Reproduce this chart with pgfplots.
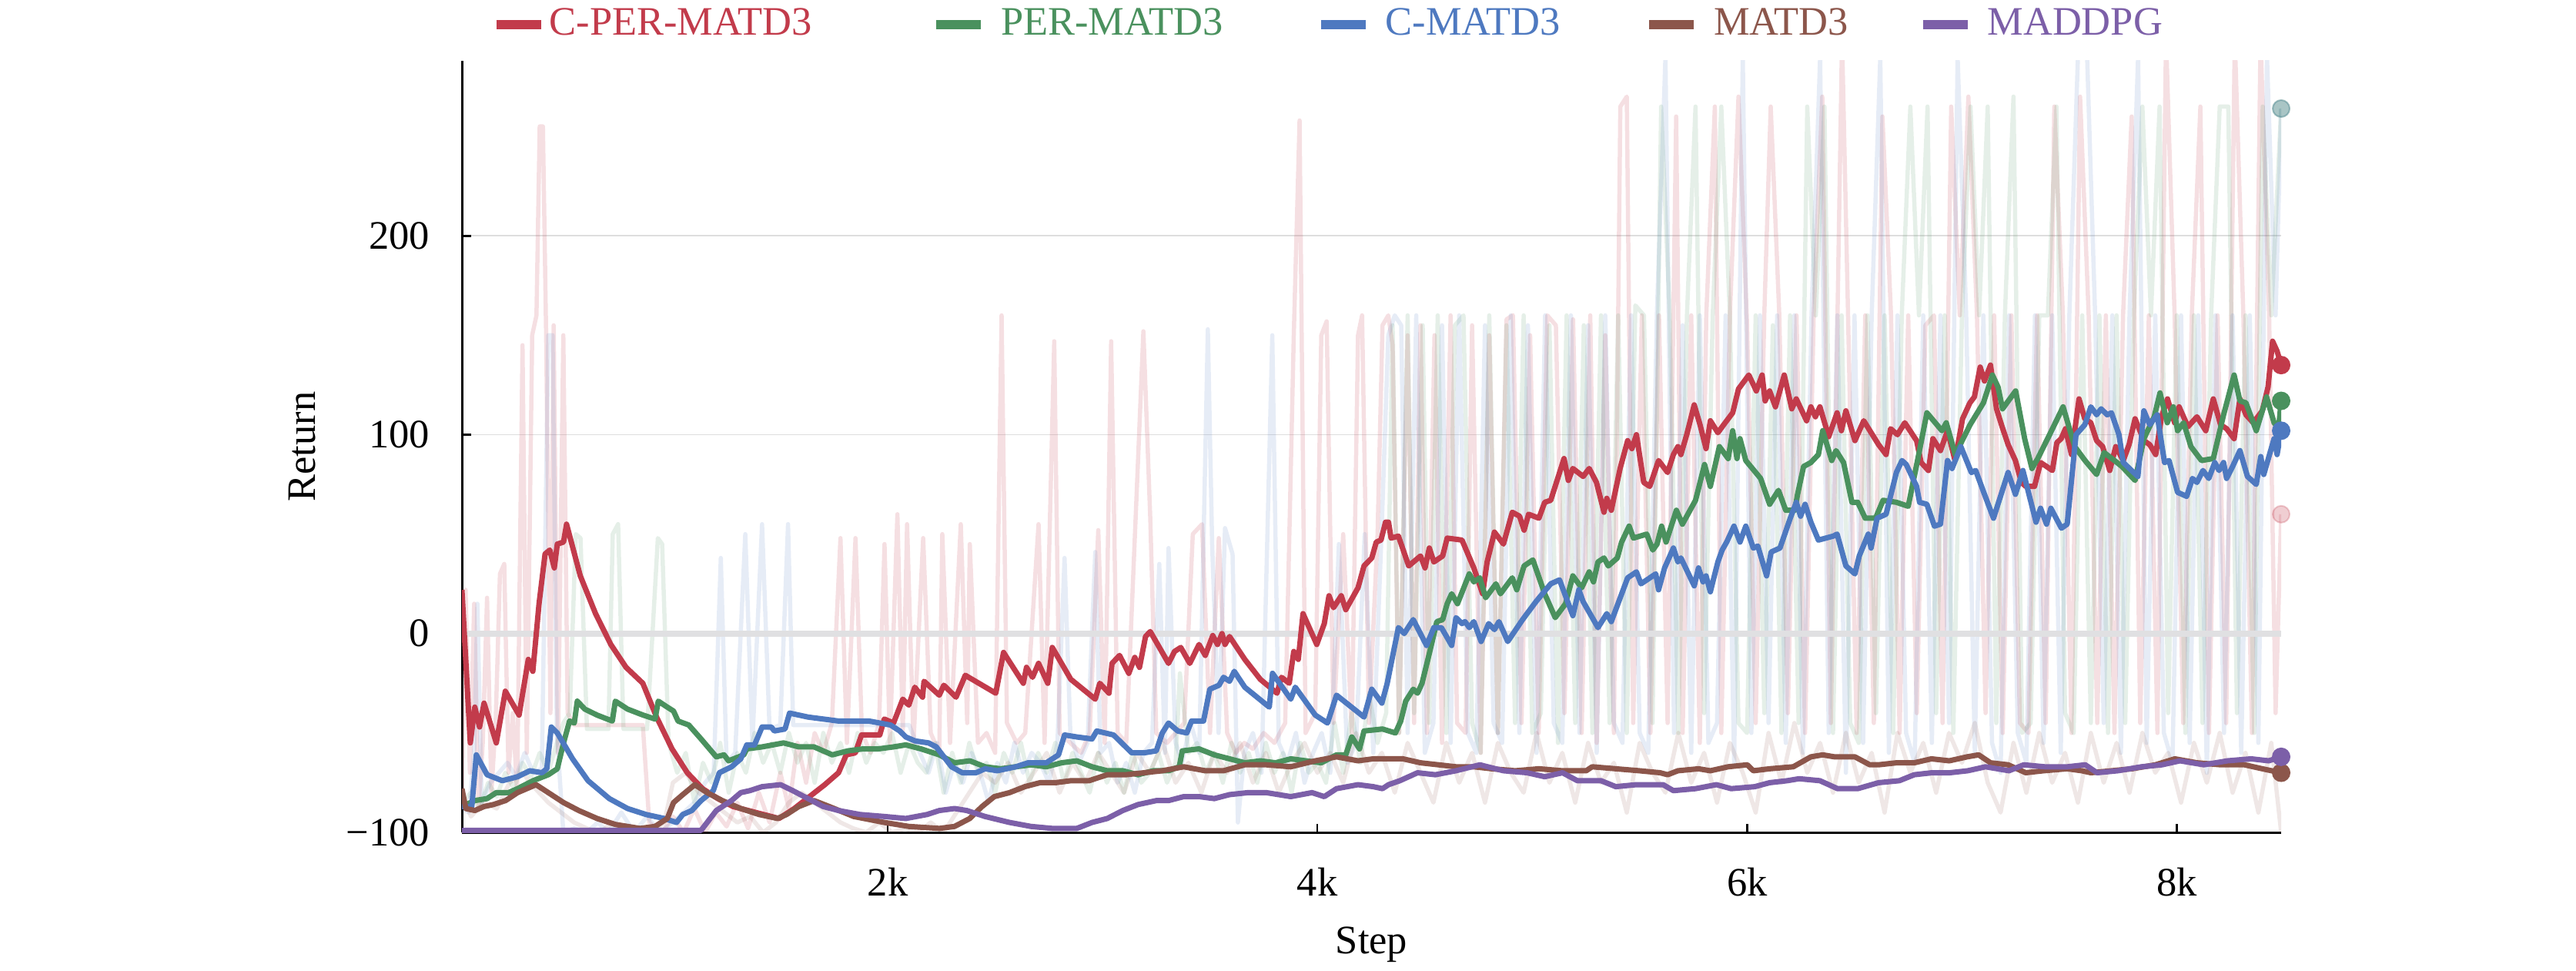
\documentclass[border=0pt]{standalone}
\usepackage{fontspec}
\setmainfont{Liberation Serif}
\usepackage{pgfplots}
\pgfplotsset{compat=1.18}
\definecolor{cred}{RGB}{194,59,75}
\definecolor{cgreen}{RGB}{74,145,94}
\definecolor{cblue}{RGB}{78,121,192}
\definecolor{cbrown}{RGB}{140,86,75}
\definecolor{cpurple}{RGB}{124,95,168}
\definecolor{gridgray}{RGB}{222,222,222}
\definecolor{zerogray}{RGB}{224,224,226}
\begin{document}
\fontsize{10.5}{12.6}\selectfont
\begin{tikzpicture}
\path[use as bounding box] (0,0) rectangle (669.2pt,252pt);
\begin{axis}[
  at={(120pt,35.8pt)}, anchor=south west,
  scale only axis, width=472.6pt, height=200.4pt,
  xmin=18, xmax=8486, ymin=-100, ymax=288,
  axis lines=left, axis line style={-, line width=0.6pt, black},
  tick align=inside, major tick length=2.3pt,
  tick style={line width=0.5pt, black},
  xtick={2000,4000,6000,8000}, xticklabels={2k,4k,6k,8k},
  ytick={-100,0,100,200}, yticklabels={−100,0,100,200},
  ymajorgrids, grid style={line width=0.35pt, draw=gridgray},
  xticklabel style={yshift=-5.5pt},
  yticklabel style={xshift=-4.7pt},
  xlabel={Step}, ylabel={Return},
  xlabel style={at={(axis description cs:0.5,-0.1043)}, anchor=north},
  ylabel style={at={(axis description cs:-0.0726,0.5)}, anchor=south},
  legend columns=-1,
  legend cell align=left,
  legend style={at={(axis description cs:0.0163,1)}, anchor=west, yshift=9.4pt,
    draw=none, fill=none, inner sep=0pt, outer sep=0pt,
    nodes={inner sep=0pt, anchor=west},
    /tikz/every odd column/.style={column sep=4pt},
    /tikz/every even column/.style={column sep=0pt}},
  every axis plot/.append style={line join=round},
]
% ---------------- raw (faint) series ----------------
\addplot[forget plot, cred, opacity=0.16, line width=1.1pt] coordinates {
(18,-85) (35,22) (55,-70) (75,15) (95,-88) (115,-55) (135,18) (155,-80) (175,-45) (195,30) (215,35) (235,-70) (255,-40) (275,-80) (300,145) (320,-60) (345,150) (365,160) (380,255) (395,255) (410,150) (430,-40) (445,155) (465,-60) (490,150) (510,-40) (540,-46) (700,-46) (860,-46) (890,-95) (950,-100) (1000,-92) (1050,-100) (1100,-88) (1150,-100) (1200,-90) (1250,-97) (1300,-85) (1350,-98) (1400,-80) (1450,-95) (1500,-70) (1540,-88) (1580,-55) (1620,-75) (1660,-50) (1700,-60) (1740,-45) (1780,48) (1810,-55) (1850,48) (1880,-50) (1920,-60) (1960,-45) (1985,45) (2010,-55) (2045,60) (2070,-50) (2090,55) (2120,-55) (2165,48) (2200,-50) (2240,-60) (2254,50) (2290,-55) (2340,55) (2370,-45) (2382,45) (2420,-55) (2460,-50) (2500,-60) (2530,160) (2555,-45) (2600,-55) (2640,-50) (2702,55) (2730,-55) (2775,147) (2800,-50) (2850,-55) (2900,-60) (2940,-50) (2980,52) (3010,-55) (3040,147) (3070,-50) (3110,-55) (3150,48) (3190,152) (3222,58) (3250,-50) (3300,-55) (3340,-50) (3380,-45) (3420,50) (3463,55) (3500,-50) (3541,48) (3580,-50) (3620,-60) (3660,-55) (3700,-58) (3750,-50) (3800,-55) (3850,-45) (3890,150) (3917,258) (3945,-50) (3990,-40) (4018,150) (4043,157) (4075,-45) (4120,50) (4160,-50) (4189,150) (4208,160) (4240,-45) (4280,50) (4303,155) (4330,160) (4350,145) (4380,-50) (4420,150) (4450,-45) (4480,155) (4510,-50) (4545,150) (4580,-55) (4620,160) (4650,-45) (4690,-50) (4720,155) (4760,-60) (4800,150) (4840,-50) (4880,158) (4910,160) (4950,-45) (4990,150) (5030,-50) (5070,160) (5110,155) (5150,-40) (5190,158) (5230,-50) (5270,160) (5300,-55) (5340,150) (5380,-50) (5410,265) (5440,270) (5470,-45) (5510,160) (5550,-50) (5590,160) (5630,-45) (5670,260) (5700,-50) (5740,160) (5780,-55) (5810,160) (5850,265) (5880,-50) (5920,160) (5960,270) (6000,155) (6040,-45) (6080,160) (6110,265) (6150,160) (6190,-40) (6230,160) (6270,-50) (6310,160) (6350,270) (6390,-45) (6442,300) (6470,160) (6510,-50) (6550,160) (6590,-45) (6630,260) (6670,160) (6710,-50) (6750,160) (6790,-40) (6830,155) (6870,160) (6910,-45) (6950,265) (6990,160) (7030,270) (7070,160) (7110,-40) (7150,160) (7190,-50) (7230,160) (7270,-45) (7310,-50) (7350,160) (7390,-45) (7430,265) (7470,160) (7510,-50) (7550,270) (7590,160) (7630,-45) (7670,160) (7710,-50) (7750,160) (7790,260) (7830,-45) (7870,160) (7910,-50) (7950,300) (7990,160) (8030,-45) (8070,160) (8110,265) (8150,-50) (8190,160) (8230,-45) (8270,300) (8310,160) (8350,-50) (8390,300) (8430,160) (8460,-40) (8486,60)};
\addplot[forget plot, cgreen, opacity=0.14, line width=1.1pt] coordinates {
(18,-85) (60,-80) (100,-88) (140,-75) (180,-82) (220,-70) (260,-78) (300,-65) (340,-72) (380,-60) (420,-70) (460,-55) (490,-45) (520,-40) (548,50) (570,48) (600,-48) (650,-48) (700,-48) (720,50) (745,55) (770,-48) (820,-48) (880,-48) (930,48) (950,45) (980,-55) (1020,-70) (1060,-60) (1100,-85) (1140,-65) (1180,-75) (1220,-55) (1260,-80) (1300,-60) (1340,-70) (1380,-50) (1420,-65) (1460,-55) (1500,-70) (1540,-50) (1580,-65) (1620,-55) (1660,-75) (1700,-50) (1740,-65) (1780,-55) (1820,-70) (1860,-50) (1900,-65) (1940,-55) (1980,-60) (2020,-50) (2060,-70) (2100,-55) (2140,-65) (2180,-70) (2220,-55) (2260,-80) (2300,-60) (2340,-75) (2380,-55) (2420,-70) (2460,-65) (2500,-80) (2540,-60) (2580,-70) (2620,-55) (2660,-75) (2700,-60) (2740,-70) (2780,-55) (2820,-75) (2860,-60) (2900,-70) (2940,-80) (2980,-60) (3020,-75) (3060,-65) (3100,-80) (3140,-60) (3180,-75) (3220,-70) (3260,-60) (3300,-75) (3340,-65) (3360,-20) (3400,-60) (3440,-55) (3480,-70) (3520,-60) (3560,-75) (3600,-55) (3640,-70) (3680,-60) (3720,-75) (3760,-55) (3800,-70) (3840,-60) (3880,-80) (3920,-55) (3960,-70) (4000,-65) (4040,-75) (4080,-45) (4120,-70) (4160,-40) (4200,-65) (4240,-30) (4280,-55) (4320,-40) (4350,155) (4380,-50) (4420,160) (4450,-40) (4490,155) (4520,-45) (4560,160) (4600,-50) (4640,155) (4680,160) (4720,-45) (4760,-60) (4800,160) (4840,-50) (4880,155) (4920,-45) (4960,160) (5000,-50) (5040,-40) (5080,155) (5120,-55) (5160,160) (5200,-45) (5240,155) (5280,-50) (5320,160) (5360,-45) (5400,160) (5440,-50) (5480,165) (5520,160) (5560,-45) (5600,265) (5640,160) (5680,-50) (5720,160) (5760,265) (5800,-40) (5840,160) (5880,265) (5920,160) (5960,-45) (6000,-50) (6040,160) (6080,-40) (6120,155) (6160,-50) (6200,160) (6240,-45) (6280,265) (6320,160) (6360,265) (6400,-50) (6440,160) (6480,-45) (6520,-55) (6560,160) (6600,-40) (6640,160) (6680,-50) (6720,160) (6760,265) (6800,160) (6840,265) (6880,-40) (6920,160) (6960,-50) (7000,160) (7040,265) (7080,160) (7120,265) (7160,-45) (7200,160) (7240,270) (7280,-50) (7320,-45) (7360,160) (7400,160) (7440,265) (7480,-40) (7520,-50) (7560,160) (7600,-45) (7640,160) (7680,-50) (7720,160) (7760,-45) (7800,160) (7840,265) (7880,160) (7920,265) (7960,-40) (8000,160) (8040,-50) (8080,160) (8120,-45) (8160,160) (8200,265) (8240,265) (8280,-40) (8320,160) (8360,-50) (8400,265) (8440,160) (8486,264)};
\addplot[forget plot, cblue, opacity=0.14, line width=1.1pt] coordinates {
(18,-88) (50,-90) (75,-60) (90,15) (110,-85) (150,-75) (190,-70) (230,-65) (270,-72) (310,-60) (350,-70) (390,-68) (420,150) (440,150) (460,-50) (490,-100) (540,-98) (600,-100) (650,-95) (700,-100) (760,-90) (820,-100) (880,-92) (940,-100) (1000,-95) (1050,-90) (1100,-85) (1150,-75) (1190,-70) (1223,38) (1250,-65) (1290,-60) (1337,50) (1370,-55) (1415,55) (1450,-48) (1500,-46) (1536,55) (1560,-46) (1700,-46) (1850,-46) (2000,-46) (2100,-46) (2150,-60) (2190,-70) (2230,-55) (2270,-80) (2310,-65) (2350,-75) (2390,-60) (2430,-70) (2470,-85) (2510,-65) (2550,-75) (2590,-55) (2630,-70) (2670,-60) (2710,-65) (2750,-75) (2790,-55) (2823,38) (2850,-50) (2890,-65) (2930,-55) (2966,41) (2990,-60) (3030,-55) (3070,-75) (3110,-65) (3150,-80) (3190,-60) (3230,-55) (3264,35) (3290,-60) (3307,43) (3340,-55) (3370,-65) (3410,-45) (3450,-60) (3490,153) (3510,45) (3540,-50) (3570,53) (3605,40) (3630,-95) (3660,-60) (3700,-50) (3740,-70) (3790,150) (3820,-55) (3860,-65) (3900,-50) (3940,-75) (3980,-60) (4020,-50) (4060,-70) (4100,45) (4140,-65) (4180,-55) (4220,50) (4260,-60) (4300,55) (4330,150) (4360,160) (4390,155) (4420,-50) (4460,160) (4500,-60) (4540,-45) (4580,155) (4620,-55) (4660,160) (4700,-50) (4740,-60) (4780,155) (4820,-45) (4860,-55) (4900,160) (4940,-50) (4980,155) (5020,-60) (5060,160) (5100,-45) (5140,-55) (5180,160) (5220,-50) (5260,155) (5300,-60) (5340,160) (5380,-45) (5420,-55) (5460,160) (5500,-50) (5540,-60) (5580,160) (5620,290) (5660,-50) (5700,155) (5740,-60) (5780,160) (5820,-55) (5860,-45) (5900,160) (5940,-65) (5980,290) (6020,-50) (6060,160) (6100,-45) (6140,160) (6180,-55) (6220,160) (6260,-60) (6300,160) (6340,290) (6380,-50) (6420,160) (6460,-70) (6500,160) (6540,-55) (6580,160) (6620,290) (6660,-60) (6700,160) (6740,-50) (6780,-65) (6820,160) (6860,-55) (6900,160) (6940,-45) (6980,290) (7020,160) (7060,-60) (7100,160) (7140,-55) (7180,-70) (7220,160) (7260,-50) (7300,-65) (7340,160) (7380,-55) (7420,160) (7460,-60) (7500,160) (7540,290) (7580,300) (7620,160) (7660,-45) (7700,160) (7740,-60) (7780,160) (7820,290) (7860,-55) (7900,160) (7940,-50) (7980,-65) (8020,160) (8060,-55) (8100,160) (8140,-70) (8180,160) (8220,-50) (8260,160) (8300,-60) (8340,160) (8380,-55) (8420,290) (8460,160) (8486,264)};
\addplot[forget plot, cbrown, opacity=0.14, line width=1.1pt] coordinates {
(18,-80) (60,-92) (120,-85) (180,-88) (240,-75) (300,-70) (360,-78) (420,-85) (480,-90) (540,-95) (600,-98) (660,-100) (720,-95) (780,-100) (840,-98) (900,-100) (960,-95) (1000,-75) (1060,-70) (1120,-80) (1180,-85) (1240,-90) (1300,-95) (1360,-92) (1420,-100) (1480,-95) (1540,-85) (1600,-80) (1660,-85) (1720,-90) (1780,-95) (1840,-98) (1900,-100) (1960,-95) (2020,-100) (2080,-98) (2140,-100) (2200,-95) (2260,-100) (2320,-90) (2380,-80) (2440,-70) (2500,-75) (2560,-65) (2620,-80) (2680,-70) (2740,-60) (2800,-80) (2860,-65) (2920,-75) (2980,-60) (3040,-70) (3100,-80) (3160,-60) (3220,-70) (3280,-55) (3340,-75) (3400,-65) (3460,-80) (3520,-60) (3580,-70) (3640,-55) (3700,-75) (3760,-60) (3820,-80) (3880,-65) (3940,-55) (4000,-70) (4060,-60) (4120,-75) (4180,-50) (4240,-70) (4300,-60) (4360,-80) (4420,-55) (4480,-70) (4540,-85) (4600,-55) (4660,-75) (4720,-60) (4780,-85) (4840,-55) (4900,-70) (4960,-80) (5020,-50) (5080,-75) (5140,-60) (5200,-85) (5260,-55) (5320,-75) (5380,-65) (5440,-90) (5500,-55) (5560,-70) (5620,-80) (5680,-50) (5740,-75) (5800,-60) (5860,-85) (5920,-55) (5980,-70) (6040,-90) (6100,-50) (6160,-75) (6220,-45) (6280,-70) (6340,-55) (6400,-80) (6460,-50) (6520,-75) (6580,-60) (6640,-90) (6700,-50) (6760,-70) (6820,-55) (6880,-80) (6940,-50) (7000,-65) (7060,-45) (7120,-75) (7180,-90) (7240,-55) (7300,-80) (7360,-50) (7420,-75) (7480,-60) (7540,-85) (7600,-50) (7660,-75) (7720,-55) (7780,-80) (7840,-50) (7900,-70) (7960,-60) (8020,-85) (8080,-55) (8140,-75) (8200,-50) (8260,-80) (8320,-60) (8380,-90) (8440,-55) (8486,-100)};
% zero line (over the raw lines)
\addplot[forget plot, zerogray, line width=1.5pt] coordinates {(18,0) (8486,0)};
% ---------------- smoothed series ----------------
\addplot[cred, line width=1.4pt, legend image code/.code={\draw[line width=2.4pt] (0pt,0pt) -- (11.6pt,0pt);}] coordinates {
(18,22) (57,-55) (78,-37) (100,-47) (121,-35) (178,-55) (220,-29) (284,-41) (327,-13) (348,-19) (377,15) (405,40) (427,42) (448,33) (462,45) (491,46) (505,55) (569,29) (640,10) (711,-5.5) (782,-17) (860,-25) (924,-42) (996,-58) (1067,-70) (1138,-78) (1209,-83) (1280,-87) (1351,-89) (1422,-91) (1494,-93) (1565,-88) (1636,-82) (1707,-76) (1771,-70) (1807,-61) (1849,-60) (1878,-51) (1963,-51) (1984,-43) (2027,-45) (2070,-33) (2098,-36) (2126,-27) (2162,-32) (2169,-24) (2240,-31) (2261,-26) (2318,-32) (2361,-21) (2503,-30) (2539,-9.5) (2631,-25) (2646,-17) (2674,-22) (2702,-15) (2745,-25) (2766,-7) (2852,-23) (2966,-33) (2987,-25) (3030,-30) (3044,-15) (3079,-11) (3122,-20) (3150,-12) (3172,-17) (3200,-1.5) (3222,1) (3307,-15) (3335,-9) (3364,-7) (3406,-15) (3449,-5.5) (3478,-11) (3513,-1) (3535,-5.5) (3556,0) (3570,-5.5) (3591,-1.5) (3662,-13) (3734,-23) (3812,-30) (3833,-22) (3869,-25) (3890,-9) (3911,-13) (3933,10) (3997,-5.5) (4032,5) (4054,19) (4075,13) (4111,19) (4132,12) (4189,23) (4217,34) (4253,38) (4274,46) (4296,47) (4317,56) (4331,56) (4343,48) (4377,49) (4425,34) (4480,39) (4501,33) (4521,43) (4542,36) (4583,39) (4604,48) (4673,47) (4728,33) (4769,20) (4790,36) (4824,51) (4866,45) (4907,61) (4941,59) (4962,52) (4983,60) (5031,58) (5058,66) (5086,67) (5148,88) (5168,77) (5189,83) (5237,79) (5265,83) (5299,76) (5334,61) (5347,68) (5368,62) (5409,83) (5444,97) (5464,93) (5485,100) (5519,76) (5547,74) (5588,87) (5630,81) (5657,90) (5678,94) (5692,90) (5719,100) (5754,115) (5781,105) (5809,93) (5829,107) (5864,101) (5898,106) (5933,111) (5960,123) (6008,130) (6043,122) (6070,130) (6084,117) (6105,122) (6132,114) (6173,130) (6208,113) (6229,118) (6277,107) (6297,114) (6318,109) (6339,114) (6380,99) (6419,111) (6439,102) (6460,112) (6502,97) (6543,107) (6612,95) (6647,90) (6668,103) (6700,100) (6734,106) (6789,97) (6810,86) (6844,82) (6865,98) (6900,92) (6933,102) (6968,87) (7003,108) (7037,116) (7058,119) (7085,134) (7105,127) (7133,135) (7161,113) (7187,104) (7215,95) (7249,87) (7277,76) (7297,74) (7338,74) (7366,86) (7394,84) (7421,82) (7442,96) (7462,98) (7482,103) (7510,90) (7545,118) (7572,108) (7600,106) (7627,97) (7655,94) (7688,82) (7716,94) (7751,87) (7778,95) (7806,108) (7847,97) (7874,95) (7902,90) (7929,109) (7957,118) (7990,106) (8011,114) (8052,104) (8094,109) (8135,102) (8170,118) (8204,105) (8232,103) (8267,98) (8294,118) (8322,110) (8356,106) (8398,112) (8425,124) (8446,147) (8467,142) (8486,135)};
\addlegendentry[text=cred]{\makebox[96.3pt][l]{\hspace*{-3pt}C-PER-MATD3}}
\addplot[cgreen, line width=1.4pt, legend image code/.code={\draw[line width=2.4pt] (0pt,0pt) -- (11.6pt,0pt);}] coordinates {
(18,-87) (78,-84) (135,-83) (178,-80) (235,-80) (277,-78) (349,-74) (420,-71) (462,-68) (491,-55) (519,-44) (541,-45) (555,-34) (590,-38) (647,-41) (718,-44) (732,-34) (789,-38) (861,-41) (917,-43) (932,-34) (974,-37) (1003,-39) (1024,-44) (1074,-46) (1131,-53) (1202,-62) (1238,-61) (1259,-64) (1330,-61) (1344,-58) (1415,-57) (1515,-55) (1586,-57) (1657,-57) (1742,-61) (1814,-59) (1885,-58) (1956,-58) (2027,-57) (2084,-56) (2155,-58) (2240,-61) (2311,-65) (2382,-64) (2453,-67) (2525,-68) (2596,-67) (2667,-66) (2738,-67) (2809,-65) (2880,-64) (2951,-67) (3022,-69) (3094,-69) (3165,-71) (3236,-69) (3307,-69) (3357,-67) (3371,-59) (3449,-58) (3520,-61) (3591,-63) (3662,-65) (3734,-64) (3805,-65) (3876,-63) (3947,-64) (4018,-65) (4089,-61) (4132,-61) (4160,-52) (4196,-58) (4217,-49) (4303,-48) (4363,-50) (4388,-44) (4411,-34) (4446,-28) (4466,-30) (4487,-25) (4521,-10) (4556,6) (4583,7) (4604,15) (4625,20) (4652,15) (4707,30) (4728,26) (4756,28) (4783,18) (4831,25) (4852,20) (4907,28) (4928,22) (4962,34) (5003,37) (5058,20) (5107,8) (5155,15) (5189,29) (5230,23) (5265,31) (5285,26) (5306,36) (5334,38) (5354,34) (5396,38) (5416,46) (5451,54) (5471,48) (5533,50) (5561,42) (5581,45) (5602,54) (5623,46) (5671,62) (5699,55) (5760,67) (5802,85) (5829,74) (5871,94) (5912,88) (5933,102) (5953,88) (5967,98) (5994,87) (6063,78) (6105,65) (6146,72) (6180,62) (6222,62) (6235,70) (6263,84) (6297,86) (6332,90) (6352,102) (6394,87) (6414,92) (6449,86) (6488,66) (6515,66) (6550,58) (6598,58) (6633,67) (6695,66) (6750,64) (6797,89) (6837,111) (6907,102) (6927,106) (6969,90) (7038,105) (7100,116) (7142,130) (7168,124) (7189,113) (7250,122) (7292,98) (7326,83) (7353,88) (7408,100) (7471,114) (7525,94) (7573,87) (7627,80) (7662,91) (7710,87) (7745,84) (7806,77) (7847,98) (7895,109) (7922,121) (7956,106) (7984,114) (8004,102) (8032,106) (8066,94) (8115,87) (8170,88) (8218,110) (8267,130) (8294,117) (8322,116) (8370,102) (8418,119) (8453,106) (8474,103) (8486,117)};
\addlegendentry[text=cgreen]{\makebox[81.9pt][l]{PER-MATD3}}
\addplot[cblue, line width=1.4pt, legend image code/.code={\draw[line width=2.4pt] (0pt,0pt) -- (11.6pt,0pt);}] coordinates {
(18,-87) (64,-87) (85,-61) (135,-71) (206,-74) (277,-72) (334,-69) (391,-70) (413,-68) (434,-47) (462,-50) (533,-63) (605,-74) (704,-83) (789,-88) (875,-91) (960,-93) (1017,-95) (1046,-91) (1088,-89) (1131,-84) (1188,-79) (1216,-70) (1273,-67) (1316,-63) (1344,-56) (1380,-56) (1415,-47) (1458,-47) (1472,-49) (1522,-48) (1543,-40) (1629,-42) (1771,-44) (1913,-44) (2013,-46) (2056,-49) (2084,-52) (2127,-54) (2190,-55) (2226,-57) (2297,-67) (2347,-70) (2411,-70) (2453,-68) (2510,-69) (2596,-67) (2653,-65) (2738,-65) (2795,-61) (2823,-51) (2880,-52) (2951,-53) (2973,-49) (3051,-51) (3136,-60) (3193,-60) (3250,-59) (3278,-50) (3307,-45) (3350,-49) (3392,-50) (3414,-44) (3470,-44) (3499,-28) (3542,-26) (3563,-22) (3591,-24) (3613,-19) (3662,-27) (3776,-37) (3791,-20) (3876,-33) (3897,-27) (3990,-41) (4047,-45) (4089,-31) (4217,-42) (4253,-28) (4300,-35) (4325,-25) (4349,-12) (4377,3) (4404,0) (4446,7) (4508,-6) (4542,3) (4577,3) (4625,-6) (4645,8) (4673,5) (4687,6) (4707,3) (4728,6) (4762,-4) (4797,5) (4824,2) (4845,6) (4886,-4) (4955,7) (5017,16) (5086,25) (5127,27) (5189,9) (5217,22) (5237,16) (5306,3) (5347,10) (5368,6) (5444,28) (5485,31) (5506,25) (5575,30) (5588,22) (5616,33) (5657,43) (5678,36) (5692,38) (5754,24) (5774,33) (5795,26) (5809,29) (5829,21) (5864,36) (5884,42) (5905,46) (5939,54) (5967,46) (5994,54) (6029,43) (6050,44) (6091,29) (6112,41) (6153,43) (6201,58) (6229,66) (6249,59) (6270,65) (6297,56) (6332,47) (6401,49) (6419,50) (6460,34) (6502,30) (6522,39) (6564,50) (6577,43) (6605,58) (6647,60) (6695,81) (6721,87) (6741,85) (6789,74) (6803,66) (6837,65) (6872,54) (6900,55) (6933,87) (6954,83) (6995,94) (7044,81) (7064,82) (7105,70) (7147,58) (7215,81) (7249,70) (7284,82) (7312,70) (7345,56) (7366,63) (7394,55) (7414,63) (7463,53) (7490,55) (7531,100) (7572,105) (7600,114) (7627,110) (7648,113) (7676,110) (7696,111) (7731,100) (7751,86) (7819,79) (7847,112) (7874,105) (7909,110) (7943,86) (7964,87) (8004,71) (8046,69) (8073,78) (8094,76) (8122,82) (8149,78) (8177,86) (8197,82) (8218,86) (8232,78) (8260,84) (8294,92) (8329,79) (8370,75) (8391,89) (8405,80) (8453,98) (8467,90) (8486,102)};
\addlegendentry[text=cblue]{\makebox[67.3pt][l]{C-MATD3}}
\addplot[cbrown, line width=1.4pt, legend image code/.code={\draw[line width=2.4pt] (0pt,0pt) -- (11.6pt,0pt);}] coordinates {
(18,-78) (36,-88) (78,-89) (121,-87) (164,-86) (221,-84) (277,-80) (363,-76) (420,-80) (491,-85) (562,-89) (647,-93) (732,-96) (846,-98) (917,-97) (974,-93) (1003,-85) (1046,-81) (1102,-76) (1159,-80) (1230,-84) (1316,-88) (1401,-91) (1487,-93) (1529,-91) (1586,-87) (1657,-84) (1728,-87) (1842,-92) (1984,-95) (2098,-97) (2240,-98) (2311,-97) (2382,-93) (2439,-87) (2496,-82) (2567,-80) (2638,-77) (2709,-75) (2781,-75) (2852,-74) (2937,-74) (3022,-71) (3108,-71) (3193,-70) (3278,-69) (3378,-67) (3478,-69) (3563,-69) (3662,-66) (3762,-66) (3876,-67) (3990,-64) (4089,-62) (4189,-64) (4260,-63) (4398,-63) (4480,-65) (4563,-66) (4645,-67) (4728,-67) (4811,-68) (4921,-69) (5031,-68) (5141,-69) (5251,-69) (5279,-67) (5389,-68) (5499,-69) (5595,-70) (5630,-71) (5678,-69) (5774,-68) (5829,-69) (5912,-67) (6001,-66) (6029,-69) (6105,-68) (6215,-67) (6297,-62) (6352,-61) (6407,-62) (6460,-62) (6502,-62) (6571,-66) (6612,-66) (6695,-65) (6778,-65) (6858,-63) (6941,-64) (7024,-62) (7078,-61) (7133,-65) (7215,-66) (7297,-70) (7380,-69) (7490,-68) (7558,-69) (7600,-70) (7696,-69) (7792,-68) (7901,-66) (7991,-63) (8094,-65) (8204,-66) (8315,-66) (8398,-68) (8486,-70)};
\addlegendentry[text=cbrown]{\makebox[53.1pt][l]{MATD3}}
\addplot[cpurple, line width=1.4pt, legend image code/.code={\draw[line width=2.4pt] (0pt,0pt) -- (11.6pt,0pt);}] coordinates {
(18,-99) (1131,-99) (1202,-89) (1273,-84) (1316,-80) (1358,-79) (1415,-77) (1501,-76) (1558,-79) (1629,-83) (1700,-87) (1771,-89) (1871,-91) (1984,-92) (2084,-93) (2183,-91) (2240,-89) (2311,-88) (2368,-89) (2453,-92) (2567,-95) (2667,-97) (2766,-98) (2880,-98) (2951,-95) (3022,-93) (3094,-89) (3165,-86) (3250,-84) (3307,-84) (3378,-82) (3449,-82) (3520,-83) (3591,-81) (3677,-80) (3762,-80) (3876,-82) (3975,-80) (4032,-82) (4089,-78) (4189,-76) (4260,-77) (4303,-78) (4331,-76) (4384,-74) (4466,-70) (4549,-71) (4645,-69) (4756,-66) (4866,-69) (4976,-70) (5058,-72) (5141,-70) (5210,-74) (5320,-74) (5389,-77) (5485,-76) (5609,-76) (5657,-79) (5760,-78) (5857,-76) (5926,-78) (6036,-77) (6105,-75) (6187,-74) (6242,-73) (6339,-74) (6421,-78) (6460,-78) (6515,-78) (6612,-75) (6709,-74) (6778,-71) (6861,-70) (6944,-70) (7027,-69) (7110,-67) (7219,-69) (7288,-66) (7385,-67) (7491,-67) (7574,-66) (7629,-70) (7726,-69) (7836,-67) (7932,-66) (8015,-64) (8126,-66) (8236,-64) (8346,-63) (8428,-64) (8486,-62)};
\addlegendentry[text=cpurple]{MADDPG}
% ---------------- end markers ----------------
\addplot[forget plot, only marks, mark=*, mark size=2.2pt, cgreen, opacity=0.35] coordinates {(8486,264)};
\addplot[forget plot, only marks, mark=*, mark size=2.2pt, cblue, opacity=0.2] coordinates {(8486,264)};
\addplot[forget plot, only marks, mark=*, mark size=2.2pt, cred, opacity=0.25] coordinates {(8486,60)};
\addplot[forget plot, only marks, mark=*, mark size=2.2pt, cred] coordinates {(8486,135)};
\addplot[forget plot, only marks, mark=*, mark size=2.2pt, cgreen] coordinates {(8486,117)};
\addplot[forget plot, only marks, mark=*, mark size=2.2pt, cblue] coordinates {(8486,102)};
\addplot[forget plot, only marks, mark=*, mark size=2.2pt, cbrown] coordinates {(8486,-70)};
\addplot[forget plot, only marks, mark=*, mark size=2.2pt, cpurple] coordinates {(8486,-62)};
\end{axis}
\end{tikzpicture}
\end{document}
